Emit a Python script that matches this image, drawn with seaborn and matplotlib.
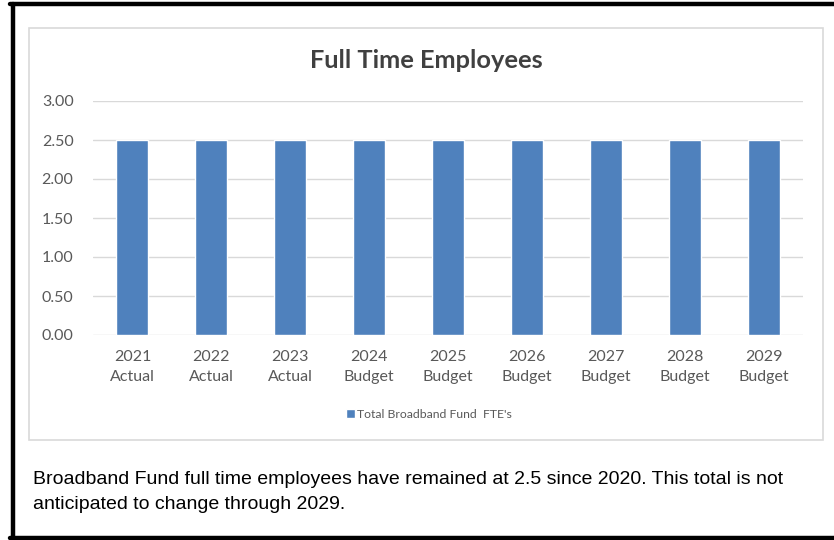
import matplotlib
matplotlib.use("Agg")
import matplotlib.pyplot as plt
import seaborn as sns
import pandas as pd
from matplotlib.patches import Rectangle
from matplotlib.lines import Line2D

years = ["2021", "2022", "2023", "2024", "2025", "2026", "2027", "2028", "2029"]
kinds = ["Actual", "Actual", "Actual", "Budget", "Budget", "Budget", "Budget", "Budget", "Budget"]
fte = [2.5, 2.5, 2.5, 2.5, 2.5, 2.5, 2.5, 2.5, 2.5]
series_name = "Total Broadband Fund  FTE's"
caption = ("Broadband Fund full time employees have remained at 2.5 since 2020. This total is not\n"
           "anticipated to change through 2029.")

df = pd.DataFrame({"label": [y + "\n" + k for y, k in zip(years, kinds)], "fte": fte})

sns.set_theme(style="white")
plt.rcParams["font.family"] = ["Lato", "DejaVu Sans"]

W, H = 834, 540
fig = plt.figure(figsize=(W / 100, H / 100), dpi=100)

# outer black frame (left, top, bottom)
for xs, ys in [([12.5, 12.5], [4, 538]), ([10, 834], [4, 4]), ([10, 834], [537.5, 537.5])]:
    fig.add_artist(Line2D([x / W for x in xs], [1 - y / H for y in ys],
                          color="black", lw=3.2, transform=fig.transFigure))

# chart area box
fig.add_artist(Rectangle((29 / W, 1 - 440 / H), (823 - 29) / W, (440 - 28) / H,
                         transform=fig.transFigure, fill=False, ec="#D9D9D9", lw=1.2))

ax = fig.add_axes([93 / W, 205 / H, (803 - 93) / W, (335 - 101) / H])
sns.barplot(data=df, x="label", y="fte", color="#4F81BD", saturation=1, width=0.405, ax=ax,
            label=series_name)
ax.set_ylim(0, 3)
ax.set_yticks([0, 0.5, 1, 1.5, 2, 2.5, 3])
ax.set_yticklabels([f"{v:.2f}" for v in [0, 0.5, 1, 1.5, 2, 2.5, 3]])
ax.yaxis.grid(True, color="#D9D9D9", lw=1)
ax.set_axisbelow(True)
for s in ax.spines.values():
    s.set_visible(False)
ax.set_xlabel("")
ax.set_ylabel("")
ax.tick_params(axis="both", length=0, labelsize=11.5, colors="#595959")
ax.tick_params(axis="y", pad=14)
ax.tick_params(axis="x", pad=11)
for t in ax.get_xticklabels():
    t.set_linespacing(1.55)

fig.text(426 / W, 1 - 61 / H, "Full Time Employees", ha="center", va="center",
         fontsize=18.3, fontweight="bold", color="#404040")

leg = ax.legend(loc="center", bbox_to_anchor=(429 / W, 1 - 414 / H), bbox_transform=fig.transFigure,
                frameon=False, fontsize=8.8, handlelength=0.7, handleheight=0.7, handletextpad=0.2)
for t in leg.get_texts():
    t.set_color("#595959")

fig.text(33 / W, 1 - 492 / H, caption, ha="left", va="center", fontsize=14,
         family="Liberation Sans", color="black", linespacing=1.55)

fig.savefig("out.png", dpi=100, facecolor="white")
